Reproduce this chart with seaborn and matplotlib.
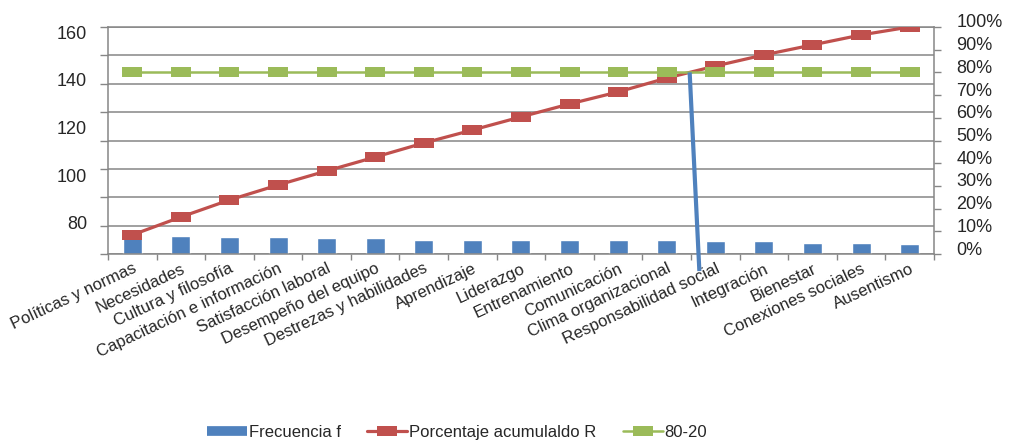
import numpy as np
import pandas as pd
import matplotlib
matplotlib.use("Agg")
import matplotlib.pyplot as plt
from matplotlib.lines import Line2D
from matplotlib.transforms import ScaledTranslation
import seaborn as sns

# Factores ordenados de mayor a menor frecuencia
categorias = [
    "Políticas y normas", "Necesidades", "Cultura y filosofía",
    "Capacitación e información", "Satisfacción laboral",
    "Desempeño del equipo", "Destrezas y habilidades", "Aprendizaje",
    "Liderazgo", "Entrenamiento", "Comunicación", "Clima organizacional",
    "Responsabilidad social", "Integración", "Bienestar",
    "Conexiones sociales", "Ausentismo",
]
frecuencia = [13, 13, 12, 12, 11, 11, 10, 10, 10, 10, 10, 10, 9, 9, 8, 8, 7]
porcentaje_acumulado = [8.4, 16.3, 23.8, 30.4, 36.6, 42.7, 48.9, 54.6, 60.4,
                        66.1, 71.4, 77.5, 82.8, 87.7, 92.1, 96.5, 100.0]
linea_80_20 = [80] * len(categorias)
etiquetas_izq = [80, 100, 120, 140, 160]
etiquetas_der = [0, 10, 20, 30, 40, 50, 60, 70, 80, 90, 100]

AZUL = "#4F81BD"
ROJO = "#C0504D"
VERDE = "#9BBB59"
GRIS = "#868686"
TEXTO = "#262626"

sns.set_theme(style="white")
plt.rcParams["font.family"] = ["Liberation Sans", "DejaVu Sans"]

df = pd.DataFrame({
    "categoria": categorias,
    "frecuencia": frecuencia,
    "acumulado": np.array(porcentaje_acumulado) / 100,
    "corte": np.array(linea_80_20) / 100,
    "pos": np.arange(len(categorias)),
})
n = len(categorias)

fig = plt.figure(figsize=(10.11, 4.41), dpi=100)
ax = fig.add_axes([0.1068, 0.424, 0.8170, 0.5148])

# Barras de frecuencia sobre el eje izquierdo (0-160)
sns.barplot(data=df, x="categoria", y="frecuencia", color=AZUL, width=0.39,
            saturation=1, ax=ax, zorder=2)
ax.set_ylim(0, 160)
ax.set_yticks(np.arange(0, 161, 20))
ax.set_yticklabels([])
ax.yaxis.grid(True, color=GRIS, linewidth=1.1)
ax.set_axisbelow(True)
ax.tick_params(axis="y", which="major", left=True, length=6, color=GRIS, width=1)
ax.set_xlabel("")
ax.set_ylabel("")
for sp in ["left", "bottom", "right", "top"]:
    ax.spines[sp].set_color(GRIS)
    ax.spines[sp].set_linewidth(1.1)

# Porcentajes sobre el eje derecho (0-100 %)
ax2 = ax.twinx()
marcador = [(-1.0, -0.5), (1.0, -0.5), (1.0, 0.5), (-1.0, 0.5)]
sns.lineplot(data=df, x="pos", y="acumulado", color=ROJO, linewidth=2.3,
             marker=marcador, markersize=14, markeredgewidth=0,
             markerfacecolor=ROJO, ax=ax2, zorder=4)
sns.lineplot(data=df, x="pos", y="corte", color=VERDE, linewidth=1.8,
             marker=marcador, markersize=14, markeredgewidth=0,
             markerfacecolor=VERDE, ax=ax2, zorder=5)
ax2.set_ylim(0, 1)
ax2.set_yticks(np.array(etiquetas_der) / 100)
ax2.set_yticklabels([f"{v}%" for v in etiquetas_der], fontsize=13, color=TEXTO)
ax2.tick_params(axis="y", right=True, length=5, color=GRIS, width=1, pad=11)
ax2.set_xlabel("")
ax2.set_ylabel("")
for sp in ax2.spines.values():
    sp.set_visible(False)
desplaza = ScaledTranslation(0, 0.06, fig.dpi_scale_trans)
for lab in ax2.get_yticklabels():
    lab.set_transform(lab.get_transform() + desplaza)

# Línea que marca el corte 80-20 sobre la curva acumulada
x_corte = np.interp(80, porcentaje_acumulado, df["pos"])
ax2.plot([x_corte, x_corte + 0.2], [0.80, -0.075], color=AZUL, linewidth=3,
         solid_capstyle="butt", clip_on=False, zorder=6)

# Rótulos del eje izquierdo
ax3 = ax.twinx()
ax3.patch.set_visible(False)
for sp in ax3.spines.values():
    sp.set_visible(False)
ax3.yaxis.tick_left()
ax3.set_ylim(67.0, 162.1)
ax3.set_yticks(etiquetas_izq)
ax3.set_yticklabels([str(v) for v in etiquetas_izq], fontsize=13, color=TEXTO)
ax3.tick_params(axis="y", length=0, pad=15)

# Eje x compartido: categorías y marcas entre ellas
ax.set_xlim(-0.5, n - 0.5)
ax.set_xticks(df["pos"])
ax.set_xticklabels(categorias, rotation=25, ha="right", va="top",
                   rotation_mode="anchor", fontsize=12, color=TEXTO)
ax.set_xticks(np.arange(-0.5, n, 1), minor=True)
ax.tick_params(axis="x", which="minor", bottom=True, length=4, color=GRIS, width=1)
ax.tick_params(axis="x", which="major", bottom=False, length=0, pad=5)

# Leyenda inferior
manijas = [
    Line2D([0], [0], color=AZUL, linewidth=7, solid_capstyle="butt"),
    Line2D([0], [0], color=ROJO, linewidth=2.3, marker=marcador,
           markersize=14, markeredgewidth=0),
    Line2D([0], [0], color=VERDE, linewidth=1.8, marker=marcador,
           markersize=14, markeredgewidth=0),
]
fig.legend(manijas, ["Frecuencia f", "Porcentaje acumulaldo R", "80-20"],
           loc="center", bbox_to_anchor=(0.452, 0.02), ncol=3, frameon=False,
           fontsize=12, handlelength=2.4, handletextpad=0.1,
           columnspacing=1.6, labelcolor=TEXTO)

fig.savefig("out.png", dpi=100)
